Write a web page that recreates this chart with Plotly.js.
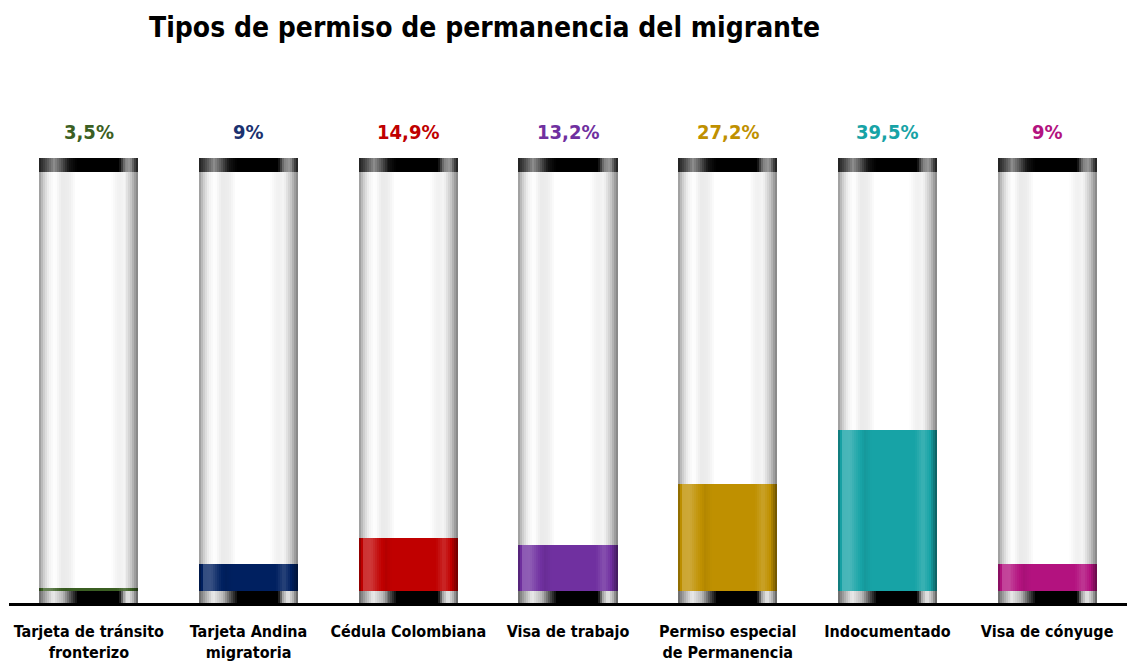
<!DOCTYPE html>
<html><head><meta charset="utf-8">
<script src="https://cdn.plot.ly/plotly-3.0.1.min.js"></script>
<style>html,body{margin:0;padding:0;background:#fff}#chart{width:1127px;height:672px}</style>
</head><body><div id="chart"></div>
<script>
// ---- data ----
const categories = ["Tarjeta de tránsito<br>fronterizo", "Tarjeta Andina<br>migratoria", "Cédula Colombiana", "Visa de trabajo", "Permiso especial<br>de Permanencia", "Indocumentado", "Visa de cónyuge"];
const values = [3.5, 9, 14.9, 13.2, 27.2, 39.5, 9];
const valueLabels = ["3,5%", "9%", "14,9%", "13,2%", "27,2%", "39,5%", "9%"];
const fillColors = ["#3b5f23", "#002060", "#c00000", "#7030a0", "#bf9000", "#17a3a6", "#b3127f"];
const labelColors = ["#3b5f23", "#1b3270", "#c00000", "#7030a0", "#bf9000", "#17a3a6", "#b3127f"];

// ---- style ----
const FONT = "'Liberation Sans Narrow', 'DejaVu Sans Condensed', 'Arial Narrow', sans-serif";
const capacity = 100;      // tube full height (percent)
const W = 0.62, N = 50;

function interp(stops, t) {
  for (let i = 1; i < stops.length; i++) {
    if (t <= stops[i][0]) {
      const a = stops[i-1], b = stops[i];
      const f = (t - a[0]) / (b[0] - a[0]);
      return a[1] + (b[1] - a[1]) * f;
    }
  }
  return stops[stops.length-1][1];
}
function hexToRgb(h) { h = h.replace('#',''); return [0,2,4].map(i => parseInt(h.substr(i,2),16)); }
function shade(hex, s) {
  const c = hexToRgb(hex);
  const r = c.map(v => s >= 0 ? v + (255 - v) * s : v * (1 + s));
  return 'rgb(' + r.map(v => Math.round(Math.max(0, Math.min(255, v)))).join(',') + ')';
}
function gray(g) { const v = Math.round(255 * Math.max(0, Math.min(1, g))); return 'rgb(' + v + ',' + v + ',' + v + ')'; }

const tubeProfile = [[0,-0.42],[0.04,-0.22],[0.1,-0.05],[0.16,0],[0.23,-0.08],[0.3,-0.07],[0.37,0],[0.72,0],[0.8,-0.06],[0.86,-0.04],[0.93,-0.22],[1,-0.5]];
const fillProfile = [[0,-0.35],[0.05,0.2],[0.12,0.22],[0.2,0.05],[0.27,-0.06],[0.34,0],[0.78,0],[0.86,0.16],[0.93,0.0],[1,-0.45]];
const topCapProfile = [[0,0.12],[0.07,0.3],[0.15,0.55],[0.22,0.35],[0.3,0.08],[0.38,0],[0.8,0],[0.86,0.5],[0.92,0.6],[0.97,0.25],[1,0.1]];
const botCapProfile = [[0,0.4],[0.06,0.65],[0.14,0.92],[0.24,0.72],[0.32,0.3],[0.39,0],[0.8,0],[0.85,0.65],[0.9,0.92],[0.95,0.7],[1,0.35]];

const traces = [];
function addLayer(yVals, baseVals, colorFn) {
  for (let i = 0; i < N; i++) {
    const t = (i + 0.5) / N;
    const off = -W/2 + i * W / N;
    const wid = Math.min(W / N * 1.4, W/2 - off);
    traces.push({
      type: 'bar', x: categories, y: yVals, base: baseVals,
      offset: off, width: wid,
      marker: { color: categories.map((c, k) => colorFn(k, t)), line: { width: 0 } },
      hoverinfo: 'skip', showlegend: false
    });
  }
}
const zeros = categories.map(() => 0);
addLayer(categories.map(() => capacity), zeros, (k, t) => shade('#ffffff', interp(tubeProfile, t)));
addLayer(values, zeros, (k, t) => shade(fillColors[k], interp(fillProfile, t)));
addLayer(categories.map(() => 2.75), zeros, (k, t) => gray(interp(botCapProfile, t)));
addLayer(categories.map(() => 3.2), categories.map(() => capacity - 1.5), (k, t) => gray(interp(topCapProfile, t)));

const annotations = categories.map((c, k) => ({
  x: c, y: capacity + 1.7, xref: 'x', yref: 'y', yanchor: 'bottom', yshift: 12,
  text: valueLabels[k], showarrow: false,
  font: { family: FONT, size: 20, color: labelColors[k], weight: 'bold' }
}));

const layout = {
  width: 1127, height: 672,
  margin: { l: 9, r: 0, t: 60, b: 69 },
  paper_bgcolor: '#ffffff', plot_bgcolor: '#ffffff',
  barmode: 'overlay', bargap: 0,
  title: { text: 'Tipos de permiso de permanencia del migrante', x: 0.43, xanchor: 'center', y: 0.96, yanchor: 'middle', yref: 'container',
           font: { family: FONT, size: 28, color: '#000000', weight: 'bold' } },
  xaxis: { type: 'category', showline: true, linecolor: '#000000', linewidth: 3, ticks: '', showgrid: false, zeroline: false,
           ticklabelstandoff: 12,
           tickfont: { family: FONT, size: 16, color: '#000000', weight: 'bold' }, fixedrange: true },
  yaxis: { range: [0, 124], visible: false, showgrid: false, zeroline: false, fixedrange: true },
  annotations: annotations,
  showlegend: false
};
Plotly.newPlot('chart', traces, layout, { displayModeBar: false, staticPlot: true });
</script>
</body></html>
